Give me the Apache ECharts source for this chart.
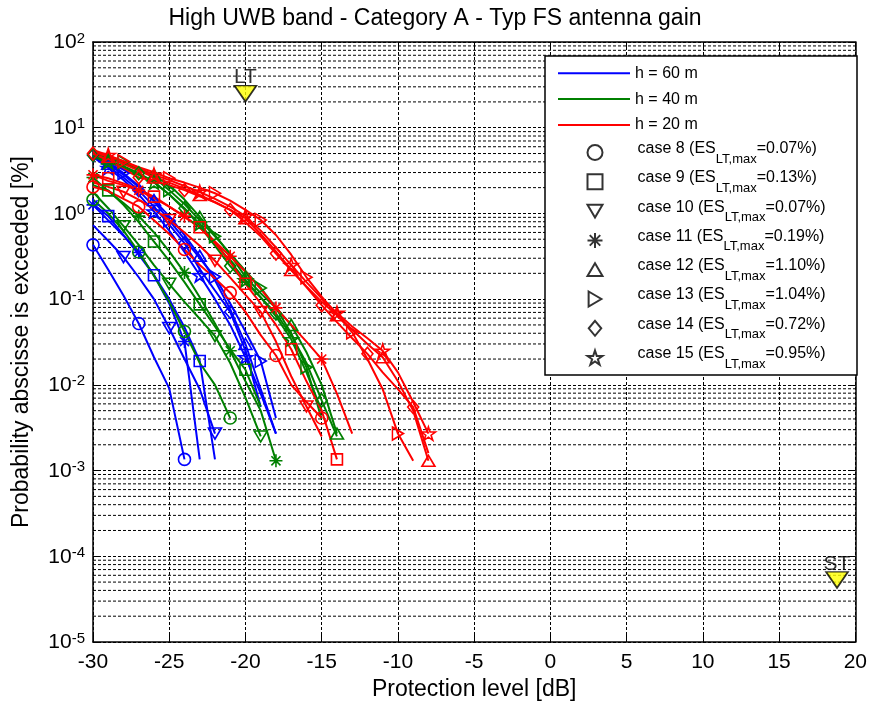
<!DOCTYPE html>
<html>
<head>
<meta charset="utf-8">
<script src="https://cdn.jsdelivr.net/npm/echarts@6/dist/echarts.min.js"></script>
<style>
  html, body { margin: 0; padding: 0; background: #fff; }
  #chart { width: 870px; height: 709px; }
</style>
</head>
<body>
<div id="chart"></div>
<script>
// Exceedance probability [%] versus protection level, 1 dB steps starting at X_START.
const X_START = -30;

// h = 60 m
const h60_c8  = [0.43, 0.22, 0.11, 0.052, 0.021, 0.0091, 0.00135];
const h60_c9  = [1.29, 0.93, 0.56, 0.33, 0.19, 0.10, 0.047, 0.019, 0.00135];
const h60_c10 = [0.73, 0.48, 0.31, 0.18, 0.10, 0.046, 0.020, 0.0089, 0.0027];
const h60_c11 = [1.26, 0.83, 0.55, 0.35, 0.19, 0.089, 0.032, 0.00135];
const h60_c12 = [5.0, 3.8, 2.82, 2.04, 1.43, 0.93, 0.56, 0.32, 0.166, 0.076, 0.030, 0.0089, 0.0027];
const h60_c13 = [5.25, 3.98, 2.95, 2.09, 1.38, 0.83, 0.50, 0.30, 0.182, 0.089, 0.042, 0.019, 0.0041];
const h60_c14 = [4.79, 3.55, 2.63, 1.86, 1.20, 0.74, 0.45, 0.224, 0.126, 0.071, 0.025, 0.0055];
const h60_c15 = [4.57, 3.39, 2.45, 1.66, 1.05, 0.63, 0.355, 0.19, 0.10, 0.050, 0.021, 0.0079, 0.0027];

// h = 40 m
const h40_c8  = [1.45, 1.0, 0.63, 0.355, 0.186, 0.093, 0.042, 0.018, 0.010, 0.0041];
const h40_c9  = [2.14, 1.86, 1.26, 0.79, 0.47, 0.28, 0.158, 0.087, 0.048, 0.026, 0.015, 0.0056];
const h40_c10 = [1.78, 1.15, 0.71, 0.43, 0.25, 0.151, 0.093, 0.059, 0.037, 0.018, 0.0071, 0.0025];
const h40_c11 = [2.63, 1.82, 1.32, 0.93, 0.60, 0.36, 0.204, 0.105, 0.052, 0.025, 0.011, 0.005, 0.0013];
const h40_c12 = [5.0, 4.37, 3.80, 3.31, 2.82, 2.14, 1.45, 0.91, 0.56, 0.33, 0.182, 0.117, 0.079, 0.050, 0.024, 0.010, 0.0027];
const h40_c13 = [5.25, 4.57, 3.98, 3.31, 2.63, 1.87, 1.29, 0.83, 0.54, 0.34, 0.214, 0.135, 0.079, 0.040, 0.016, 0.004];
const h40_c14 = [4.79, 4.17, 3.55, 2.95, 2.34, 1.66, 1.15, 0.71, 0.42, 0.243, 0.158, 0.105, 0.068, 0.038, 0.018, 0.0066, 0.0025];
const h40_c15 = [4.57, 3.98, 3.39, 2.82, 2.29, 1.66, 1.12, 0.76, 0.46, 0.275, 0.166, 0.105, 0.063, 0.034, 0.014, 0.005];

// h = 20 m
const h20_c8  = [2.04, 1.82, 1.48, 1.20, 0.83, 0.575, 0.38, 0.25, 0.174, 0.119, 0.071, 0.038, 0.022, 0.010, 0.0063, 0.0041];
const h20_c9  = [2.82, 2.57, 2.24, 1.91, 1.57, 1.20, 0.91, 0.69, 0.45, 0.27, 0.151, 0.089, 0.050, 0.026, 0.011, 0.005, 0.00135];
const h20_c10 = [2.29, 2.04, 1.79, 1.45, 1.12, 0.84, 0.60, 0.42, 0.28, 0.178, 0.112, 0.071, 0.032, 0.0126, 0.0056, 0.0025];
const h20_c11 = [2.82, 2.40, 2.14, 1.86, 1.51, 1.20, 0.93, 0.68, 0.47, 0.316, 0.209, 0.132, 0.079, 0.050, 0.032, 0.020, 0.0079, 0.0027];
const h20_c12 = [5.25, 4.57, 3.80, 3.16, 2.63, 2.29, 1.95, 1.64, 1.35, 1.10, 0.88, 0.575, 0.36, 0.219, 0.141, 0.093, 0.065, 0.044, 0.030, 0.021, 0.011, 0.005, 0.0013];
const h20_c13 = [5.25, 4.68, 4.07, 3.47, 3.02, 2.57, 2.29, 2.0, 1.72, 1.41, 1.10, 0.84, 0.56, 0.33, 0.18, 0.107, 0.066, 0.041, 0.020, 0.0089, 0.0027, 0.0013];
const h20_c14 = [5.0, 4.17, 3.31, 2.63, 2.40, 2.14, 1.87, 1.58, 1.35, 1.10, 0.79, 0.54, 0.34, 0.219, 0.138, 0.085, 0.054, 0.035, 0.023, 0.014, 0.0089, 0.0055, 0.0016];
const h20_c15 = [5.5, 4.79, 4.07, 3.39, 2.82, 2.45, 2.09, 1.78, 1.48, 1.20, 0.93, 0.63, 0.40, 0.25, 0.158, 0.102, 0.069, 0.048, 0.035, 0.025, 0.014, 0.0063, 0.0027];

const HEIGHT_NAMES = ['h = 60 m', 'h = 40 m', 'h = 20 m'];
const CASES = [8, 9, 10, 11, 12, 13, 14, 15];
const ES_LT_MAX = ['0.07', '0.13', '0.07', '0.19', '1.10', '1.04', '0.72', '0.95'];
const CURVES = [
  [h60_c8, h60_c9, h60_c10, h60_c11, h60_c12, h60_c13, h60_c14, h60_c15],
  [h40_c8, h40_c9, h40_c10, h40_c11, h40_c12, h40_c13, h40_c14, h40_c15],
  [h20_c8, h20_c9, h20_c10, h20_c11, h20_c12, h20_c13, h20_c14, h20_c15]
];

// Reference markers: [protection level dB, probability %]
const LT_POINT = [-20, 25];
const ST_POINT = [18.8, 5.3e-5];

// Axis ranges
const X_MIN = -30, X_MAX = 20, X_STEP = 5;
const Y_MIN = 1e-5, Y_MAX = 1e2;
const DECADE_EXPONENTS = [-5, -4, -3, -2, -1, 0, 1];
const MINOR_FACTORS = [2, 3, 4, 5, 6, 7, 8, 9];

// ---- styling ----
const FONT = "'Liberation Sans', Arial, Helvetica, sans-serif";
const COLORS = ['#0000FF', '#008000', '#FF0000'];
const CIRCLE = 'circle';
const SQUARE = 'path://M0,0L20,0L20,20L0,20Z';
const DOWN_TRI = 'path://M0,0L20,0L10,17Z';
const UP_TRI = 'path://M10,0L20,17L0,17Z';
const RIGHT_TRI = 'path://M0,0L17,10L0,20Z';
const ASTERISK = 'path://M10,0L10,20M0,10L20,10M3,3L17,17M3,17L17,3';
const DIAMOND = 'path://M10,0L20,12L10,24L0,12Z';
const STAR = 'path://M100,0L122.45,69.1L195.1,69.1L136.3,111.8L158.8,180.9L100,138.2L41.2,180.9L63.7,111.8L4.9,69.1L77.55,69.1Z';
const MARKERS = [
  { symbol: CIRCLE,    size: 12 },
  { symbol: SQUARE,    size: 11 },
  { symbol: DOWN_TRI,  size: [13, 11] },
  { symbol: ASTERISK,  size: 13 },
  { symbol: UP_TRI,    size: [13, 11] },
  { symbol: RIGHT_TRI, size: [11, 13] },
  { symbol: DIAMOND,   size: [11, 13] },
  { symbol: STAR,      size: [14, 13.3] }
];
const LINE_W = 2;
const DASH = [3, 2];
const GRID_LINE = { color: '#000', width: 1, type: DASH };

const series = [];

// minor log grid lines (2..9 x 10^n)
DECADE_EXPONENTS.forEach(function (e) {
  MINOR_FACTORS.forEach(function (k) {
    const v = k * Math.pow(10, e);
    if (v >= Y_MAX) return;
    series.push({
      type: 'line', silent: true, z: 1, symbol: 'none', animation: false,
      data: [[X_MIN, v], [X_MAX, v]],
      lineStyle: GRID_LINE,
      emphasis: { disabled: true }
    });
  });
});

// curves: marker on every third point, phase shifted per case
CURVES.forEach(function (group, hi) {
  group.forEach(function (vals, ci) {
    const phase = ci % 3;
    const m = MARKERS[ci];
    series.push({
      name: HEIGHT_NAMES[hi] + ' / case ' + CASES[ci],
      type: 'line', silent: true, z: 3, animation: false,
      symbol: m.symbol, symbolSize: m.size, showSymbol: true, showAllSymbol: true,
      data: vals.map(function (v, i) {
        const item = { value: [X_START + i, v] };
        if ((i - phase) % 3 !== 0) item.symbol = 'none';
        return item;
      }),
      lineStyle: { color: COLORS[hi], width: LINE_W },
      itemStyle: { color: 'rgba(0,0,0,0)', borderColor: COLORS[hi], borderWidth: 1.6 },
      emphasis: { disabled: true }
    });
  });
});

// legend-only entries
HEIGHT_NAMES.forEach(function (n, hi) {
  series.push({
    name: n, type: 'line', data: [], symbol: 'none',
    lineStyle: { color: COLORS[hi], width: LINE_W }, itemStyle: { color: COLORS[hi] }
  });
});
CASES.forEach(function (c, ci) {
  series.push({
    name: 'case ' + c, type: 'scatter', data: [], symbol: MARKERS[ci].symbol,
    itemStyle: { color: 'rgba(0,0,0,0)', borderColor: '#000', borderWidth: 1.6 }
  });
});

// LT / ST indicators
series.push({
  type: 'scatter', silent: true, z: 6, animation: false,
  symbol: DOWN_TRI, symbolSize: [22, 16],
  data: [{ name: 'LT', value: LT_POINT }, { name: 'ST', value: ST_POINT }],
  itemStyle: { color: '#FFFF00', borderColor: '#000', borderWidth: 1.6 },
  label: {
    show: true, position: 'top', distance: -3,
    formatter: function (p) { return p.name; },
    fontSize: 21, color: '#000', fontFamily: FONT
  }
});

function powLabel(v) {
  const e = Math.round(Math.log10(v));
  return '{b|10}{e|' + e + '}';
}

const axisTickIn = { show: true, inside: true, length: 7, lineStyle: { color: '#000', width: 1 } };
const axisLineBlk = { show: true, onZero: false, lineStyle: { color: '#000', width: 1.5 } };

const option = {
  backgroundColor: '#fff',
  animation: false,
  textStyle: { fontFamily: FONT },
  title: {
    text: 'High UWB band - Category A - Typ FS antenna gain',
    left: 'center', top: 0, padding: [7, 0, 0, 81],
    textStyle: { fontSize: 23, fontWeight: 'normal', color: '#000', fontFamily: FONT }
  },
  grid: { left: 93, right: 12, top: 42, bottom: 67, containLabel: false },
  xAxis: [{
    type: 'value', min: X_MIN, max: X_MAX, interval: X_STEP, position: 'bottom',
    name: 'Protection level [dB]', nameLocation: 'middle', nameGap: 35,
    nameTextStyle: { fontSize: 23, color: '#000', fontFamily: FONT },
    axisLine: axisLineBlk, axisTick: axisTickIn,
    axisLabel: { fontSize: 21, color: '#000', margin: 10, fontFamily: FONT },
    splitLine: { show: true, lineStyle: GRID_LINE }
  }, {
    type: 'value', min: X_MIN, max: X_MAX, interval: X_STEP, position: 'top',
    axisLine: axisLineBlk, axisTick: axisTickIn,
    axisLabel: { show: false }, splitLine: { show: false }
  }],
  yAxis: [{
    type: 'log', logBase: 10, min: Y_MIN, max: Y_MAX, position: 'left',
    name: 'Probability abscisse is exceeded [%]', nameLocation: 'middle', nameGap: 60,
    nameTextStyle: { fontSize: 23, color: '#000', fontFamily: FONT },
    axisLine: axisLineBlk, axisTick: axisTickIn,
    axisLabel: {
      margin: 8, color: '#000', formatter: powLabel,
      rich: {
        b: { fontSize: 21, lineHeight: 22, verticalAlign: 'bottom', fontFamily: FONT, color: '#000' },
        e: { fontSize: 15, lineHeight: 16, verticalAlign: 'top', padding: [0, 0, 20, 0], fontFamily: FONT, color: '#000' }
      }
    },
    splitLine: { show: true, lineStyle: GRID_LINE },
    minorTick: { show: false }
  }, {
    type: 'log', logBase: 10, min: Y_MIN, max: Y_MAX, position: 'right',
    axisLine: axisLineBlk, axisTick: axisTickIn,
    axisLabel: { show: false }, splitLine: { show: false }
  }],
  graphic: [{
    type: 'rect', z: 15, silent: true,
    shape: { x: 545, y: 56, width: 312, height: 319 },
    style: { fill: '#fff', stroke: '#000', lineWidth: 1.5 }
  }],
  legend: [{
    data: HEIGHT_NAMES.map(function (n) { return { name: n, icon: 'rect' }; }),
    orient: 'vertical', left: 558, top: 64.3, align: 'left',
    itemWidth: 72, itemHeight: 2, itemGap: 7.8, selectedMode: false, z: 20,
    padding: 0,
    textStyle: { fontSize: 16, lineHeight: 18, color: '#000', fontFamily: FONT }
  }, {
    data: CASES.map(function (c) { return 'case ' + c; }),
    orient: 'vertical', left: 586.5, top: 140.5, align: 'left',
    itemWidth: 15, itemHeight: 15, itemGap: 4.3, selectedMode: false, z: 20,
    padding: 0,
    formatter: function (name) {
      const i = CASES.indexOf(Number(name.replace('case ', '')));
      return '{g|}{t|' + name + ' (ES}{s|LT,max}{t|=' + ES_LT_MAX[i] + '%)}';
    },
    textStyle: {
      color: '#000', fontFamily: FONT,
      rich: {
        g: { width: 30, lineHeight: 24, verticalAlign: 'top' },
        t: { fontSize: 16, lineHeight: 24, verticalAlign: 'top', fontFamily: FONT, color: '#000' },
        s: { fontSize: 13, lineHeight: 14, verticalAlign: 'top', padding: [12, 0, 0, 0], fontFamily: FONT, color: '#000' }
      }
    }
  }],
  series: series
};

const chart = echarts.init(document.getElementById('chart'), null, { renderer: 'canvas' });
chart.setOption(option);
</script>
</body>
</html>
